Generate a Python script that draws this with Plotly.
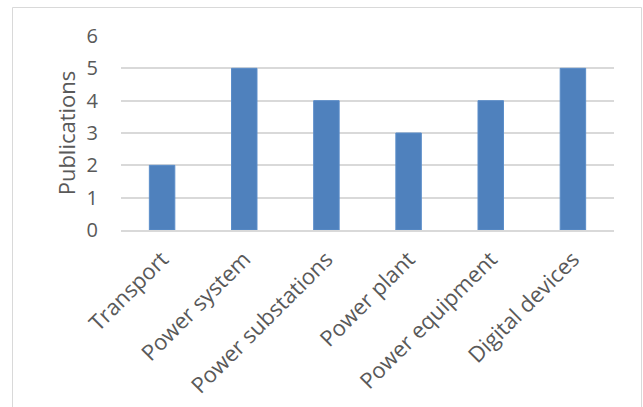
import plotly.graph_objects as go

categories = ["Transport", "Power system", "Power substations", "Power plant", "Power equipment", "Digital devices"]
publications = [2, 5, 4, 3, 4, 5]
y_ticks = [0, 1, 2, 3, 4, 5, 6]

W, H = 643, 407
L, R, T, B = 121, 29, 36, 177
pw, ph = W - L - R, H - T - B

def px_x(x):
    return (x - L) / pw

def px_y(y):
    return (H - B - y) / ph

fig = go.Figure()
fig.add_trace(go.Bar(
    x=categories, y=publications,
    marker=dict(color="#4F81BD", line=dict(color="#5B8DC9", width=1)),
    width=0.31,
))

font_family = "'Open Sans', sans-serif"
fig.update_layout(
    width=W, height=H,
    margin=dict(l=L, r=R, t=T, b=B, autoexpand=False),
    paper_bgcolor="white", plot_bgcolor="white",
    showlegend=False,
    font=dict(family=font_family, size=20, color="#595959"),
    xaxis=dict(
        tickangle=-45, showgrid=False, showline=True, linecolor="#D9D9D9", linewidth=1.5,
        ticks="", ticklabelstandoff=6, tickfont=dict(size=22, color="#595959"),
    ),
    yaxis=dict(
        range=[0, 6], tickvals=y_ticks, showgrid=True, gridcolor="#D9D9D9", gridwidth=1.5,
        zeroline=False, showline=False, ticks="", ticklabelstandoff=22,
        tickfont=dict(size=20, color="#595959"),
        title=dict(text="Publications", font=dict(size=22, color="#595959"), standoff=4),
    ),
    shapes=[dict(
        type="rect", xref="paper", yref="paper",
        x0=px_x(12.5), x1=px_x(641.5), y0=px_y(420), y1=px_y(7.5),
        line=dict(color="#D9D9D9", width=1), fillcolor="rgba(0,0,0,0)", layer="below",
    )],
)

fig.write_html("out.html")
